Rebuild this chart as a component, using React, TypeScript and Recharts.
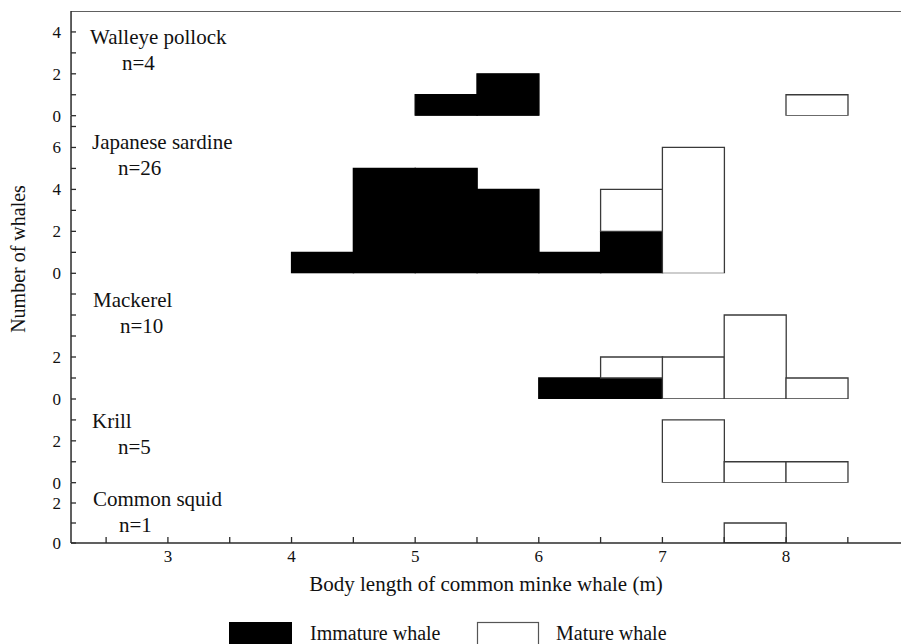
import { BarChart, Bar, XAxis, YAxis, ReferenceLine } from "recharts";

// 0.5 m length classes, given by their mid points
const binMids = [4.25, 4.75, 5.25, 5.75, 6.25, 6.75, 7.25, 7.75, 8.25];

const pollockImmature = [0, 0, 1, 2, 0, 0, 0, 0, 0];
const pollockMature = [0, 0, 0, 0, 0, 0, 0, 0, 1];
const sardineImmature = [1, 5, 5, 4, 1, 2, 0, 0, 0];
const sardineMature = [0, 0, 0, 0, 0, 2, 6, 0, 0];
const mackerelImmature = [0, 0, 0, 0, 1, 1, 0, 0, 0];
const mackerelMature = [0, 0, 0, 0, 0, 1, 2, 4, 1];
const krillImmature = [0, 0, 0, 0, 0, 0, 0, 0, 0];
const krillMature = [0, 0, 0, 0, 0, 0, 3, 1, 1];
const squidImmature = [0, 0, 0, 0, 0, 0, 0, 0, 0];
const squidMature = [0, 0, 0, 0, 0, 0, 0, 1, 0];

const preyNames = ["Walleye pollock", "Japanese sardine", "Mackerel", "Krill", "Common squid"];
const preyCounts = [4, 26, 10, 5, 1];

const xTicks = [2.5, 3, 3.5, 4, 4.5, 5, 5.5, 6, 6.5, 7, 7.5, 8, 8.5];
const xLabels = [3, 4, 5, 6, 7, 8];

const yMax = [5, 7.5, 6, 4, 3];
const yTicks = [
  [0, 1, 2, 3, 4],
  [0, 1, 2, 3, 4, 5, 6, 7],
  [0, 1, 2, 3, 4, 5],
  [0, 1, 2, 3],
  [0, 1, 2],
];
const yLabels = [
  [0, 2, 4],
  [0, 2, 4, 6],
  [0, 2],
  [0, 2],
  [0, 2],
];

const immatureName = "Immature whale";
const matureName = "Mature whale";

const FONT = '"Liberation Serif", "Times New Roman", serif';
const INK = "#2b2b2b";
const X_DOMAIN: [number, number] = [2.216, 8.93];
const W = 901;
const LEFT = 71;

// panel layout (top y and plot height in px)
const panelTop = [11, 115.7, 273, 399, 482.7];
const panelHeight = [104.7, 157.3, 126, 83.7, 60];
const titleOffset = [33, 33, 34, 29, 23];
const titleX = [90, 92, 93, 92, 93];
const countX = [122, 118, 120, 118, 119];
const BOTTOM_AXIS_H = 57;
const SPILL = 12; // room under each panel so the "0" label is not clipped

const series = [
  [pollockImmature, pollockMature],
  [sardineImmature, sardineMature],
  [mackerelImmature, mackerelMature],
  [krillImmature, krillMature],
  [squidImmature, squidMature],
];

const buildRows = (imm: number[], mat: number[]) =>
  binMids.map((mid, i) => ({ mid, immature: imm[i], mature: mat[i] }));

const XTick = ({ x, y, payload }: any) =>
  xLabels.includes(payload.value) ? (
    <text x={x} y={y} dy={13} textAnchor="middle" fontFamily={FONT} fontSize={17} fill="#111">
      {payload.value}
    </text>
  ) : (
    <g />
  );

const makeYTick =
  (labels: number[]) =>
  ({ x, y, payload }: any) =>
    labels.includes(payload.value) ? (
      <text x={x} y={y} dy={6} textAnchor="end" fontFamily={FONT} fontSize={17} fill="#111">
        {payload.value}
      </text>
    ) : (
      <g />
    );

const Panel = ({ idx }: { idx: number }) => {
  const isLast = idx === preyNames.length - 1;
  const data = buildRows(series[idx][0], series[idx][1]);
  const h = panelHeight[idx] + (isLast ? BOTTOM_AXIS_H : SPILL);
  return (
    <div style={{ position: "absolute", left: 0, top: panelTop[idx] }}>
      <BarChart
        width={W}
        height={h}
        data={data}
        margin={{ top: 0, right: 0, bottom: isLast ? 0 : SPILL, left: 0 }}
        barCategoryGap={0}
        barGap={0}
      >
        <XAxis
          type="number"
          dataKey="mid"
          domain={X_DOMAIN}
          allowDataOverflow
          ticks={xTicks}
          interval={0}
          height={isLast ? BOTTOM_AXIS_H : 0}
          tick={isLast ? XTick : false}
          tickLine={isLast ? { stroke: INK, strokeWidth: 1.3 } : false}
          tickSize={-6}
          tickMargin={12}
          axisLine={{ stroke: INK, strokeWidth: 1.5 }}
          label={
            isLast
              ? {
                  value: "Body length of common minke whale (m)",
                  position: "insideBottom",
                  offset: 9,
                  fill: "#111",
                  fontSize: 21,
                  fontFamily: FONT,
                }
              : undefined
          }
        />
        <YAxis
          type="number"
          width={LEFT}
          domain={[0, yMax[idx]]}
          allowDataOverflow
          ticks={yTicks[idx]}
          interval={0}
          tick={makeYTick(yLabels[idx])}
          tickLine={{ stroke: INK, strokeWidth: 1.3 }}
          tickSize={-5}
          tickMargin={15}
          axisLine={{ stroke: INK, strokeWidth: 1.5 }}
        />
        {idx === 0 && <ReferenceLine y={yMax[0]} stroke={INK} strokeWidth={1.5} />}
        <Bar
          dataKey="immature"
          name={immatureName}
          stackId="s"
          fill="#000"
          stroke="#000"
          strokeWidth={1.3}
          isAnimationActive={false}
        />
        <Bar
          dataKey="mature"
          name={matureName}
          stackId="s"
          fill="#fff"
          stroke="#3a3a3a"
          strokeWidth={1.3}
          isAnimationActive={false}
        />
      </BarChart>
    </div>
  );
};

export default function App() {
  return (
    <div
      style={{
        position: "absolute",
        left: 0,
        top: 0,
        width: W,
        height: 644,
        background: "#fff",
        overflow: "hidden",
        fontFamily: FONT,
      }}
    >
      {preyNames.map((_, i) => (
        <Panel key={i} idx={i} />
      ))}
      <svg
        width={W}
        height={644}
        style={{ position: "absolute", left: 0, top: 0, pointerEvents: "none" }}
        fontFamily={FONT}
        fill="#111"
      >
        {preyNames.map((name, i) => (
          <g key={name}>
            <text x={titleX[i]} y={panelTop[i] + titleOffset[i]} fontSize={21}>
              {name}
            </text>
            <text x={countX[i]} y={panelTop[i] + titleOffset[i] + 26} fontSize={21}>
              {`n=${preyCounts[i]}`}
            </text>
          </g>
        ))}
        <text
          x={0}
          y={0}
          fontSize={20}
          textAnchor="middle"
          transform="translate(25 259) rotate(-90)"
        >
          Number of whales
        </text>
        <rect x={229} y={622} width={63} height={24} fill="#000" />
        <text x={310} y={640} fontSize={20}>
          {immatureName}
        </text>
        <rect x={477.5} y={622.5} width={61} height={24} fill="#fff" stroke="#555" strokeWidth={1.2} />
        <text x={556} y={640} fontSize={20}>
          {matureName}
        </text>
      </svg>
    </div>
  );
}
